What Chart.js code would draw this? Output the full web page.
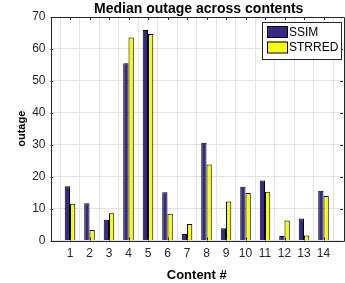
<!DOCTYPE html>
<html>
<head>
<meta charset="utf-8">
<script src="https://cdn.jsdelivr.net/npm/chart.js@4"></script>
<style>
  html, body { margin: 0; padding: 0; background: #fff; }
  #wrap { width: 345px; height: 283px; }
</style>
</head>
<body>
<div id="wrap"><canvas id="chartBar"></canvas></div>
<script>
// data
const contents = [1, 2, 3, 4, 5, 6, 7, 8, 9, 10, 11, 12, 13, 14];
const ssim   = [17.0, 11.7, 6.5, 55.5, 65.9, 15.1, 2.0, 30.6, 3.8, 16.8, 18.8, 1.4, 6.9, 15.6];
const strred = [11.5, 3.3, 8.5, 63.6, 64.7, 8.4, 5.2, 23.8, 12.2, 14.9, 15.3, 6.3, 1.6, 13.9];
const seriesNames = ['SSIM', 'STRRED'];
const yTicks = [0, 10, 20, 30, 40, 50, 60, 70];

const FONT = 'Liberation Sans, Arial, Helvetica, sans-serif';
const AXIS_COLOR = '#262626';

const toPoints = (vals) => contents.map((c, i) => ({ x: c, y: vals[i] }));

// draws title, box, inward ticks and the legend (matlab look)
const matlabAxes = {
    id: 'matlabAxes',
    afterDatasetsDraw(chart) {
        const { ctx, chartArea: a, scales: { x, y } } = chart;
        ctx.save();
        ctx.strokeStyle = AXIS_COLOR;
        ctx.lineWidth = 1;
        ctx.beginPath();
        ctx.rect(Math.round(a.left) + 0.5, Math.round(a.top) + 0.5,
                 Math.round(a.right - a.left), Math.round(a.bottom - a.top));
        ctx.stroke();

        // inward ticks
        ctx.beginPath();
        for (let v = 1; v < 15; v++) {
            const px = Math.round(x.getPixelForValue(v)) + 0.5;
            ctx.moveTo(px, a.bottom); ctx.lineTo(px, a.bottom - 3);
            ctx.moveTo(px, a.top); ctx.lineTo(px, a.top + 3);
        }
        yTicks.forEach(v => {
            const py = Math.round(y.getPixelForValue(v)) + 0.5;
            ctx.moveTo(a.left, py); ctx.lineTo(a.left + 3, py);
            ctx.moveTo(a.right, py); ctx.lineTo(a.right - 3, py);
        });
        ctx.stroke();

        // title
        ctx.fillStyle = '#000';
        ctx.font = 'bold 14px ' + FONT;
        ctx.textAlign = 'center';
        ctx.textBaseline = 'middle';
        ctx.fillText('Median outage across contents', (a.left + a.right) / 2 + 2, 9);

        // legend box
        const lx = 262, ly = 22, lw = 79, lh = 37;
        ctx.fillStyle = '#fff';
        ctx.fillRect(lx, ly, lw, lh);
        ctx.strokeStyle = AXIS_COLOR;
        ctx.strokeRect(lx + 0.5, ly + 0.5, lw, lh);
        ctx.font = '12px ' + FONT;
        ctx.textAlign = 'left';
        chart.data.datasets.forEach((ds, i) => {
            const sy = ly + 4 + i * 15.5;
            ctx.fillStyle = ds.backgroundColor;
            ctx.fillRect(lx + 5, sy, 20, 11);
            ctx.strokeStyle = '#000';
            ctx.strokeRect(lx + 5.5, sy + 0.5, 20, 11);
            ctx.fillStyle = '#000';
            ctx.fillText(ds.label, lx + 27, sy + 6.5);
        });
        ctx.restore();
    }
};

const config = {
    type: 'bar',
    data: {
        datasets: [
            {
                label: seriesNames[0],
                data: toPoints(ssim),
                backgroundColor: 'rgb(53, 42, 135)',
                borderColor: '#000',
                borderWidth: 1,
            },
            {
                label: seriesNames[1],
                data: toPoints(strred),
                backgroundColor: 'rgb(249, 251, 14)',
                borderColor: '#000',
                borderWidth: 1,
            }
        ]
    },
    options: {
        responsive: true,
        maintainAspectRatio: false,
        animation: false,
        categoryPercentage: 0.54,
        barPercentage: 1,
        layout: { padding: { top: 17, right: 2, left: 0, bottom: 0 } },
        scales: {
            x: {
                type: 'linear',
                min: 0,
                max: 15,
                offset: false,
                afterFit: (s) => { s.height = 42.5; s.paddingRight = 0; s.paddingLeft = 0; },
                grid: { color: '#e3e3e3', drawTicks: false },
                border: { display: false },
                ticks: {
                    stepSize: 1,
                    padding: 6,
                    color: AXIS_COLOR,
                    font: { family: FONT, size: 12 },
                    maxRotation: 0,
                    callback: (v) => (v >= 1 && v <= 14 ? String(v) : ''),
                },
                title: {
                    display: true,
                    text: 'Content #',
                    color: '#000',
                    font: { family: FONT, size: 13, weight: 'bold' },
                    padding: { top: 3, bottom: 0 },
                }
            },
            y: {
                min: 0,
                max: 70,
                afterFit: (s) => { s.width = 50.5; },
                grid: { color: '#e3e3e3', drawTicks: false },
                border: { display: false },
                ticks: {
                    stepSize: 10,
                    padding: 5,
                    color: AXIS_COLOR,
                    font: { family: FONT, size: 12 },
                },
                title: {
                    display: true,
                    text: 'outage',
                    color: '#000',
                    font: { family: FONT, size: 11, weight: 'bold' },
                    padding: { top: 15, bottom: 0 },
                }
            }
        },
        plugins: {
            legend: { display: false },
            tooltip: { enabled: false },
            title: { display: false }
        }
    },
    plugins: [matlabAxes]
};

new Chart(document.getElementById('chartBar'), config);
</script>
</body>
</html>
